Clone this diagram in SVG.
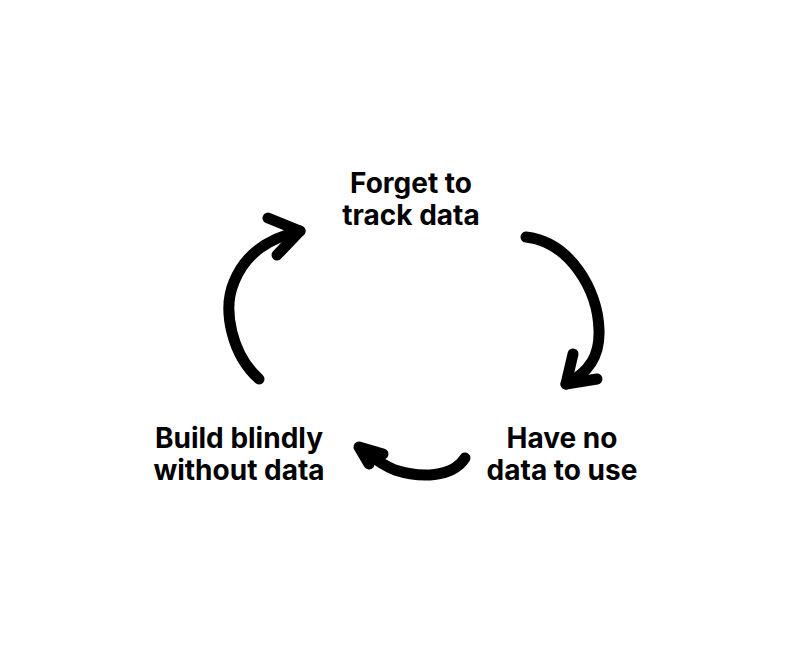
<svg xmlns="http://www.w3.org/2000/svg" width="800" height="652" viewBox="0 0 800 652">
<style>
.t{font-family:Inter,"Liberation Sans",sans-serif;font-weight:700;font-size:28px;fill:#000;text-anchor:middle}
.a{fill:none;stroke:#000;stroke-width:11;stroke-linecap:round;stroke-linejoin:round}
</style>
<rect width="800" height="652" fill="#fff"/>
<g id="n1"><text class="t" x="411" y="193">Forget to</text><text class="t" x="411" y="225">track data</text></g>
<g id="n2"><text class="t" x="562" y="448">Have no</text><text class="t" x="562" y="480">data to use</text></g>
<g id="n3"><text class="t" x="239" y="448">Build blindly</text><text class="t" x="239" y="480">without data</text></g>
<g id="edges">
<path class="a" d="M526,237 C570,242 598,290 599,330 C600,355 590,372 566,384"/>
<path class="a" d="M573,354 L566,384 L597,379"/>
<path class="a" d="M465,458 C452,478 420,478 395,470 C380,464 370,455 360,448"/>
<path class="a" d="M383,454 L359,447 L369,464"/>
<path class="a" d="M259,379 C232,355 222,310 234,282 C246,252 270,238 300,231"/>
<path class="a" d="M268,218 L300,231 L277,255"/>
</g>
</svg>
